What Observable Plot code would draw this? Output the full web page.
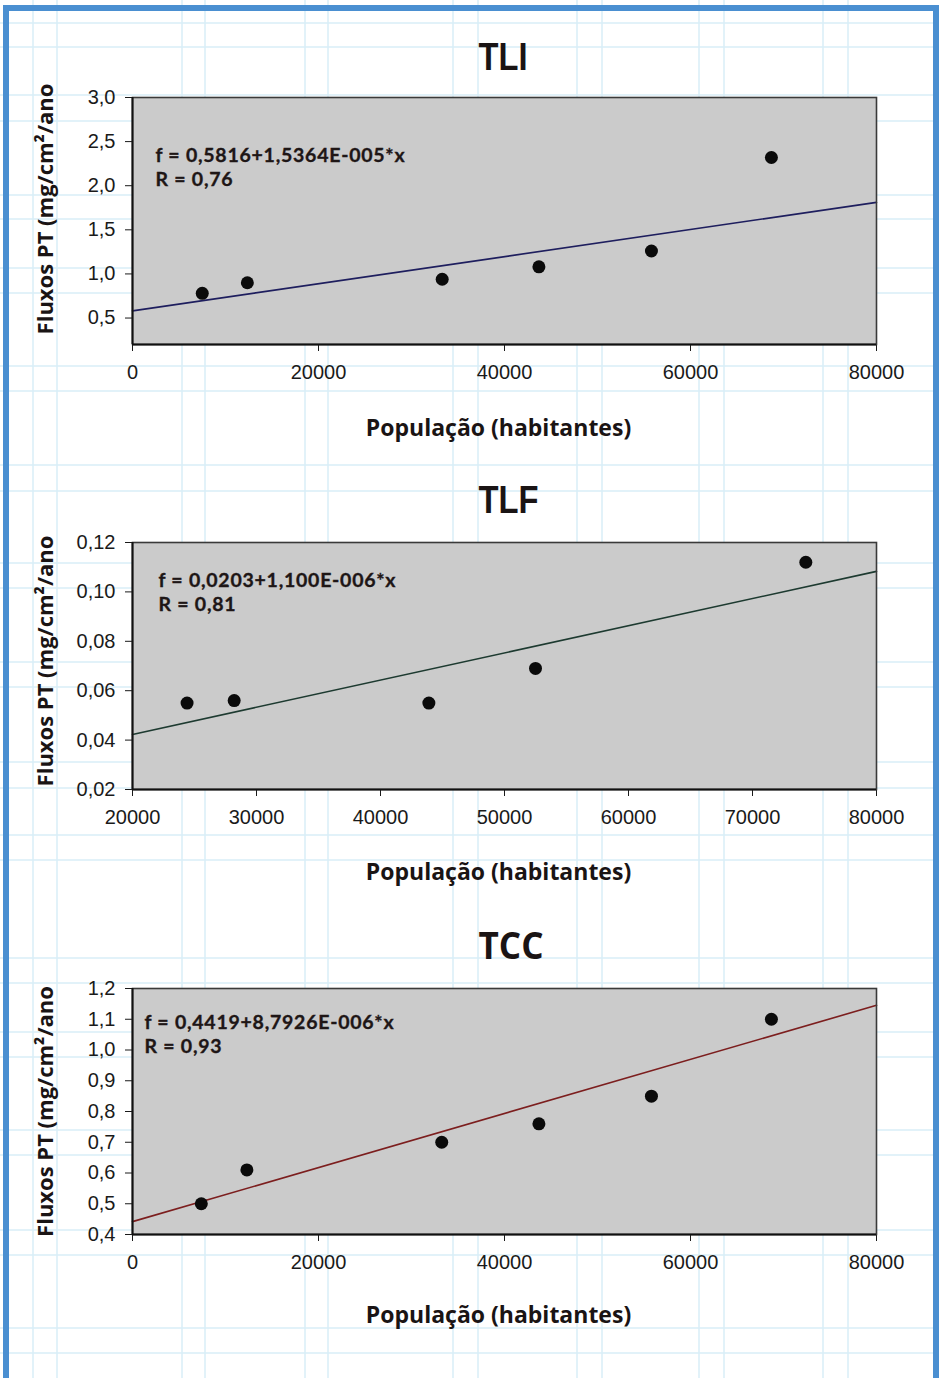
<!DOCTYPE html>
<html>
<head>
<meta charset="utf-8">
<script src="https://cdn.jsdelivr.net/npm/d3@7"></script>
<script src="https://cdn.jsdelivr.net/npm/@observablehq/plot@0.6"></script>
<style>
  html, body { margin: 0; padding: 0; overflow: hidden; background: #fff; }
  #page { position: relative; width: 939px; height: 1378px; overflow: hidden; background: #fff; }
  #grid { position: absolute; left: 0; top: 0; }
  #frame { position: absolute; left: 3px; top: 5px; width: 924px; height: 1400px;
           border: 6px solid #4a8fd1; border-bottom: none; }
  .panel { position: absolute; left: 0; }
</style>
</head>
<body>
<div id="page">
  <svg id="grid" width="939" height="1378"></svg>
  <div id="frame"></div>
  <div class="panel" id="p1" style="top:20px"></div>
  <div class="panel" id="p2" style="top:465px"></div>
  <div class="panel" id="p3" style="top:911px"></div>
</div>
<script>
// ---------- data ----------
const tliX = [7500, 12350, 33300, 43700, 55800, 68700];
const tliY = [0.78, 0.90, 0.94, 1.08, 1.26, 2.32];
const tliFit = [0.5816, 1.5364e-5];           // intercept, slope
const tliText = ["f = 0,5816+1,5364E-005*x", "R = 0,76"];
const tliYTicks = [0.5, 1.0, 1.5, 2.0, 2.5, 3.0];
const tliXTicks = [0, 20000, 40000, 60000, 80000];

const tlfX = [24400, 28200, 43900, 52500, 74300];
const tlfY = [0.055, 0.056, 0.055, 0.069, 0.112];
const tlfFit = [0.0203, 1.100e-6];
const tlfText = ["f = 0,0203+1,100E-006*x", "R = 0,81"];
const tlfYTicks = [0.02, 0.04, 0.06, 0.08, 0.10, 0.12];
const tlfXTicks = [20000, 30000, 40000, 50000, 60000, 70000, 80000];

const tccX = [7400, 12300, 33250, 43700, 55800, 68700];
const tccY = [0.50, 0.61, 0.70, 0.76, 0.85, 1.10];
const tccFit = [0.4419, 8.7926e-6];
const tccText = ["f = 0,4419+8,7926E-006*x", "R = 0,93"];
const tccYTicks = [0.4, 0.5, 0.6, 0.7, 0.8, 0.9, 1.0, 1.1, 1.2];
const tccXTicks = [0, 20000, 40000, 60000, 80000];

const yLabel = "Fluxos PT (mg/cm²/ano";
const xLabel = "População (habitantes)";

// ---------- decorative graph-paper background ----------
const gridV = [33, 57, 182, 205, 305, 328, 453, 478, 577, 602, 699, 724, 823, 848];
const gridH = [23, 47, 95, 121, 195, 219, 268, 293, 366, 391, 465, 491, 563, 588, 662, 687,
               762, 788, 835, 860, 958, 983, 1032, 1057, 1130, 1155, 1230, 1255, 1328, 1353];
const g = d3.select("#grid");
g.selectAll("line.v").data(gridV).join("line").attr("class", "v")
  .attr("x1", d => d).attr("x2", d => d).attr("y1", 0).attr("y2", 1378)
  .attr("stroke", "#d8eef7").attr("stroke-width", 1.5);
g.selectAll("line.h").data(gridH).join("line").attr("class", "h")
  .attr("x1", 0).attr("x2", 939).attr("y1", d => d).attr("y2", d => d)
  .attr("stroke", "#d8eef7").attr("stroke-width", 1.5);

const comma = (spec) => { const f = d3.format(spec); return d => f(d).replace(".", ","); };

function panel(cfg) {
  const pts = cfg.xs.map((x, i) => ({x, y: cfg.ys[i]}));
  const fit = cfg.xDomain.map(x => ({x, y: cfg.fit[0] + cfg.fit[1] * x}));
  const sans = "Liberation Sans, Arial, sans-serif";
  const myriad = "Open Sans, Noto Sans, sans-serif";
  const eqFont = "Lato, Open Sans, sans-serif";
  const svg = Plot.plot({
    width: 939,
    height: 77 + cfg.plotH + 106,
    marginLeft: 132,
    marginRight: 63,
    marginTop: 77,
    marginBottom: 106,
    style: {fontFamily: sans, background: "transparent", overflow: "visible"},
    x: {domain: cfg.xDomain},
    y: {domain: cfg.yDomain},
    marks: [
      Plot.frame({fill: "#cbcbcb", stroke: null}),
      Plot.axisX({ticks: cfg.xTicks, tickFormat: d3.format("d"), tickSize: 7, tickPadding: 13,
                  fontSize: 20, color: "#1a1a1a", label: null}),
      Plot.axisY({ticks: cfg.yTicks, tickFormat: comma(cfg.yFmt), tickSize: 7, tickPadding: 10,
                  fontSize: 20, color: "#1a1a1a", label: null}),
      Plot.line(fit, {x: "x", y: "y", stroke: cfg.lineColor, strokeWidth: 1.6}),
      Plot.dot(pts, {x: "x", y: "y", r: 6.5, fill: "#0a0a0a", stroke: null}),
      Plot.frame({stroke: "#3a3a3a", strokeWidth: 1.6}),
      Plot.ruleX([cfg.xDomain[0]], {stroke: "#111", strokeWidth: 2}),
      Plot.ruleY([cfg.yDomain[0]], {stroke: "#111", strokeWidth: 2}),
      Plot.text([cfg.title], {text: d => d, frameAnchor: "top-left", dx: 346, dy: cfg.titleDy,
                  textAnchor: "start", lineAnchor: "middle", fontSize: cfg.titleSize,
                  fontWeight: "bold", fontFamily: cfg.titleFont, fill: "#1a1414",
                  className: "ptitle"}),
      Plot.text([cfg.text.join("\n")], {text: d => d, frameAnchor: "top-left", dx: cfg.eqDx, dy: cfg.eqDy,
                  textAnchor: "start", lineAnchor: "middle", lineHeight: 24 / 19.5,
                  fontSize: 19.5, fontWeight: "bold", fontFamily: eqFont, fill: "#1e1616",
                  className: "peq"}),
      Plot.text([yLabel], {text: d => d, frameAnchor: "left", dx: -87, dy: cfg.yLabDy, rotate: -90,
                  textAnchor: "middle", lineAnchor: "middle", fontSize: 22, fontWeight: "bold",
                  fontFamily: myriad, fill: "#1a1414"}),
      Plot.text([xLabel], {text: d => d, frameAnchor: "bottom", dx: -6, dy: cfg.xLabDy,
                  textAnchor: "middle", lineAnchor: "middle", fontSize: 23, fontWeight: "bold",
                  fontFamily: myriad, fill: "#1a1414"})
    ]
  });
  // condense the title glyphs to the reference's width
  d3.select(svg).selectAll("g.ptitle text")
    .attr("textLength", cfg.titleW).attr("lengthAdjust", "spacingAndGlyphs");
  // widen the equation text slightly, as in the reference
  d3.select(svg).selectAll("g.peq text").style("letter-spacing", "0.75px")
    .style("stroke", "#1e1616").style("stroke-width", "0.35px");
  return svg;
}

document.getElementById("p1").appendChild(panel({
  xs: tliX, ys: tliY, fit: tliFit, text: tliText, xTicks: tliXTicks, yTicks: tliYTicks,
  xDomain: [0, 80000], yDomain: [0.2, 3.0], yFmt: ".1f", plotH: 247,
  lineColor: "#1e1e5e", title: "TLI", titleDy: -40, titleSize: 39, titleW: 49,
  titleFont: "Liberation Sans, Arial, sans-serif",
  eqDx: 23, eqDy: 69, yLabDy: -12, xLabDy: 84
}));
document.getElementById("p2").appendChild(panel({
  xs: tlfX, ys: tlfY, fit: tlfFit, text: tlfText, xTicks: tlfXTicks, yTicks: tlfYTicks,
  xDomain: [20000, 80000], yDomain: [0.02, 0.12], yFmt: ".2f", plotH: 247,
  lineColor: "#1d3a30", title: "TLF", titleDy: -42, titleSize: 39, titleW: 60,
  titleFont: "Liberation Sans, Arial, sans-serif",
  eqDx: 26, eqDy: 49, yLabDy: -5, xLabDy: 83
}));
document.getElementById("p3").appendChild(panel({
  xs: tccX, ys: tccY, fit: tccFit, text: tccText, xTicks: tccXTicks, yTicks: tccYTicks,
  xDomain: [0, 80000], yDomain: [0.4, 1.2], yFmt: ".1f", plotH: 246,
  lineColor: "#7c1e1e", title: "TCC", titleDy: -42, titleSize: 38, titleW: 65,
  titleFont: "Open Sans, Noto Sans, sans-serif",
  eqDx: 12, eqDy: 45, yLabDy: 0, xLabDy: 81
}));
</script>
</body>
</html>
